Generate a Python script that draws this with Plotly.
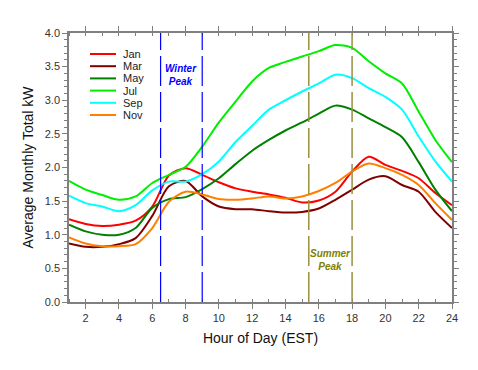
import plotly.graph_objects as go

hours = list(range(1, 25))
months = ["Jan", "Mar", "May", "Jul", "Sep", "Nov"]
colors = ["#ff0000", "#800000", "#008000", "#00ee00", "#00ffff", "#ff8000"]

jan = [1.23, 1.16, 1.13, 1.15, 1.21, 1.42, 1.88, 1.99, 1.89, 1.78, 1.69, 1.64,
       1.60, 1.55, 1.48, 1.51, 1.64, 1.94, 2.16, 2.04, 1.95, 1.84, 1.62, 1.44]
mar = [0.87, 0.82, 0.82, 0.86, 0.95, 1.28, 1.72, 1.80, 1.57, 1.42, 1.38, 1.38,
       1.35, 1.33, 1.34, 1.39, 1.52, 1.67, 1.82, 1.87, 1.74, 1.64, 1.34, 1.10]
may = [1.15, 1.05, 1.00, 1.00, 1.10, 1.40, 1.53, 1.56, 1.68, 1.84, 2.05, 2.25,
       2.41, 2.55, 2.67, 2.80, 2.92, 2.86, 2.73, 2.60, 2.45, 2.08, 1.67, 1.35]
jul = [1.80, 1.67, 1.59, 1.52, 1.57, 1.77, 1.89, 2.01, 2.31, 2.67, 2.98, 3.28,
       3.48, 3.57, 3.65, 3.73, 3.82, 3.78, 3.58, 3.40, 3.25, 2.83, 2.41, 2.08]
sep = [1.58, 1.47, 1.42, 1.35, 1.44, 1.66, 1.79, 1.79, 1.90, 2.09, 2.38, 2.62,
       2.86, 3.00, 3.13, 3.25, 3.38, 3.33, 3.18, 3.05, 2.86, 2.46, 2.09, 1.79]
nov = [0.96, 0.87, 0.83, 0.83, 0.86, 1.10, 1.49, 1.64, 1.60, 1.53, 1.52, 1.54,
       1.57, 1.54, 1.57, 1.65, 1.77, 1.94, 2.06, 1.99, 1.89, 1.74, 1.47, 1.22]
series = [jan, mar, may, jul, sep, nov]

winter_peak = [6.5, 9.0]
summer_peak = [15.4, 18.0]
x_ticks = list(range(2, 25, 2))
y_ticks = [0.0, 0.5, 1.0, 1.5, 2.0, 2.5, 3.0, 3.5, 4.0]

# page body has an 8px margin, so the figure is laid out 8px smaller
OFF = 8
W, H = 478 - OFF, 370 - OFF
ML, MR, MT, MB = 69 - OFF, 26, 33 - OFF, 68
PW, PH = W - ML - MR, H - MT - MB

fig = go.Figure()
for name, vals, col in zip(months, series, colors):
    fig.add_trace(go.Scatter(x=hours, y=vals, name=name, mode="lines",
                             line=dict(color=col, width=2, shape="spline", smoothing=0.8),
                             showlegend=False))

shapes = []
for xv in winter_peak:
    shapes.append(dict(type="line", xref="x", yref="paper", x0=xv, x1=xv, y0=0, y1=1,
                       line=dict(color="#0000ff", width=1.2, dash="30px,6px")))
for xv in summer_peak:
    shapes.append(dict(type="line", xref="x", yref="paper", x0=xv, x1=xv, y0=0, y1=1,
                       line=dict(color="#9a9040", width=1.5, dash="30px,6px")))

annotations = []
# compact legend (target page pixels converted to paper coords)
for i, (name, col) in enumerate(zip(months, colors)):
    py = 54 + i * 12.2 - OFF
    yp = (H - MB - py) / PH
    shapes.append(dict(type="line", xref="paper", yref="paper",
                       x0=(90 - OFF - ML) / PW, x1=(116 - OFF - ML) / PW, y0=yp, y1=yp,
                       line=dict(color=col, width=2)))
    annotations.append(dict(xref="paper", yref="paper", x=(121 - OFF - ML) / PW, y=yp,
                            text=name, showarrow=False, xanchor="left", yanchor="middle",
                            font=dict(size=11, color="#222222")))

wx = sum(winter_peak) / 2
sx = sum(summer_peak) / 2
for txt, xv, yv, col in [("Winter<br>Peak", wx, 3.37, "#0000ff"),
                         ("Summer<br>Peak", sx, 0.62, "#808000")]:
    annotations.append(dict(xref="x", yref="y", x=xv, y=yv, text="<b><i>" + txt + "</i></b>",
                            showarrow=False, xanchor="center", yanchor="middle",
                            font=dict(size=10, color=col)))

fig.update_layout(
    width=W, height=H,
    margin=dict(l=ML, r=MR, t=MT, b=MB, pad=0),
    paper_bgcolor="white", plot_bgcolor="white",
    font=dict(family="Liberation Sans, Arial, sans-serif", size=11, color="#333333"),
    shapes=shapes, annotations=annotations,
    xaxis=dict(range=[1, 24], tickvals=x_ticks, ticks="outside", ticklen=5,
               tickcolor="#808080", showline=True, linecolor="#808080", linewidth=1.5,
               mirror="ticks", showgrid=False, zeroline=False,
               minor=dict(dtick=1, ticks="inside", ticklen=3, tickcolor="#808080"),
               title=dict(text="Hour of Day (EST)", font=dict(size=14, color="#111111"), standoff=10),
               tickfont=dict(size=11, color="#333333")),
    yaxis=dict(range=[0, 4], tickvals=y_ticks, tickformat=".1f", ticks="outside", ticklen=5,
               tickcolor="#808080", showline=True, linecolor="#808080", linewidth=1.5,
               mirror="ticks", showgrid=False, zeroline=False,
               minor=dict(dtick=0.1, ticks="outside", ticklen=3, tickcolor="#808080"),
               title=dict(text="Average Monthly Total kW", font=dict(size=14, color="#111111"), standoff=8),
               tickfont=dict(size=11, color="#333333")),
)

fig.write_html("out.html")
